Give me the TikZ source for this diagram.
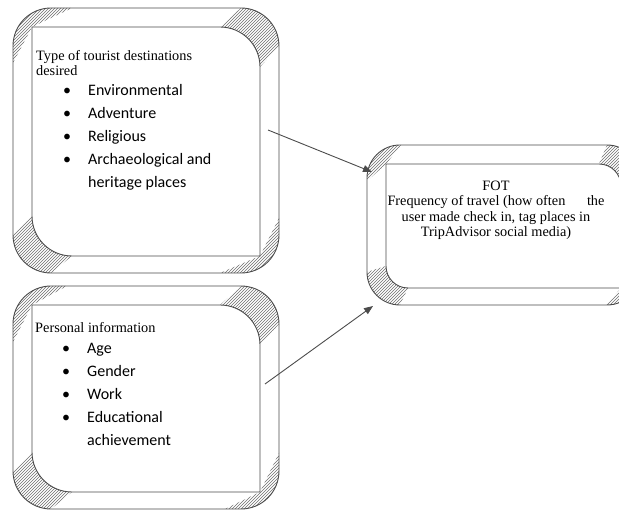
\documentclass[tikz,border=0pt]{standalone}
\usepackage{fontspec}
\setmainfont{Liberation Serif}
\newfontfamily\itemfamily{Carlito}
\usetikzlibrary{arrows.meta, patterns, positioning}
\definecolor{gray1}{RGB}{75,75,75}
\definecolor{gray2}{RGB}{110,110,110}

% frame with hatched corners: (#1,#2) outer top left, (#3,#4) outer bottom right,
% #5 outer radius, #6 inner radius, #7/#8 reach of the pointed corners
\newcommand{\hatchbox}[8]{%
  \fill[hatchfill] ({#1+19},{#2+19}) -- ({#1+#7},#2) -- ({#1+#5},#2)
     arc[start angle=270, end angle=180, radius=#5] -- (#1,{#2+#8}) -- cycle;
  \fill[hatchfill] ({#3-#5},#2) arc[start angle=270, end angle=360, radius=#5]
     -- ({#3-19},{#2+19+#6}) arc[start angle=0, end angle=-90, radius=#6] -- cycle;
  \fill[hatchfill] (#3,{#4-#8}) -- (#3,{#4-#5}) arc[start angle=0, end angle=90, radius=#5]
     -- ({#3-#7},#4) -- ({#3-19},{#4-17}) -- cycle;
  \fill[hatchfill] ({#1+#5},#4) arc[start angle=90, end angle=180, radius=#5]
     -- ({#1+19},{#4-17-#6}) arc[start angle=180, end angle=90, radius=#6] -- cycle;
  \draw[frameline, rounded corners=#5pt] (#1,#2) rectangle (#3,#4);
  \draw[frameline] ({#1+19},{#2+19}) -- ({#3-19-#6},{#2+19})
     arc[start angle=270, end angle=360, radius=#6] -- ({#3-19},{#4-17})
     -- ({#1+19+#6},{#4-17}) arc[start angle=90, end angle=180, radius=#6] -- cycle;
}
\newcommand{\bul}{\llap{\textbullet\hspace{17pt}}}

\begin{document}
\begin{tikzpicture}[x=1pt, y=-1pt]

\tikzstyle{frameline}	=[draw=gray1, line width=0.9pt]
\tikzstyle{hatchfill}	=[pattern=north east lines, pattern color=gray2]
\tikzstyle{head}		=[inner sep=0pt, anchor=base west, font=\fontsize{14.3}{16}\selectfont]
\tikzstyle{fotline}	=[inner sep=0pt, anchor=base, font=\fontsize{14.3}{16}\selectfont]
\tikzstyle{item}		=[inner sep=0pt, anchor=base west, font=\itemfamily\fontsize{16}{19}\selectfont]
\tikzstyle{connection}	=[line width=0.9pt, draw=gray1, -{Triangle[length=9pt, width=7pt]}]

\useasboundingbox (0,0) rectangle (619,510);
\clip (0,0) rectangle (619,510);

\hatchbox{13}{8}{279}{273}{38}{40}{59}{55}
\hatchbox{13}{286}{279}{509}{38}{40}{54}{56}
\hatchbox{367}{145}{640}{305}{33}{22}{34}{36}

% destinations
\node[head] (tdtitle) at (36,61) {Type of tourist destinations};
\node[below=14.5pt of tdtitle.base west, head] (tdtitle2) {desired};

\node[item] (env) at (88,96) {\bul Environmental};
\node[below=23pt of env.base west, item] (adv) {\bul Adventure};
\node[below=23pt of adv.base west, item] (rel) {\bul Religious};
\node[below=23pt of rel.base west, item] (arch) {\bul Archaeological and};
\node[below=23pt of arch.base west, item] (arch2) {heritage places};

% personal information
\node[head] (pititle) at (35,333) {Personal information};

\node[item] (age) at (87,354) {\bul Age};
\node[below=23pt of age.base west, item] (gen) {\bul Gender};
\node[below=23pt of gen.base west, item] (work) {\bul Work};
\node[below=23pt of work.base west, item] (edu) {\bul Educational};
\node[below=23pt of edu.base west, item] (edu2) {achievement};

% frequency of travel
\node[fotline] (fot) at (496,191) {FOT};
\node[below=15pt of fot.base, fotline] (fot1) {Frequency of travel (how often\hspace{18pt} the};
\node[below=16pt of fot1.base, fotline] (fot2) {user made check in, tag places in};
\node[below=15pt of fot2.base, fotline] (fot3) {TripAdvisor social media)};

\coordinate (tdout)  at (268,130);
\coordinate (fotin1) at (372,172);
\coordinate (piout)  at (265,384);
\coordinate (fotin2) at (373,306);

\draw [connection] (tdout) -- (fotin1);
\draw [connection] (piout) -- (fotin2);

\end{tikzpicture}
\end{document}
